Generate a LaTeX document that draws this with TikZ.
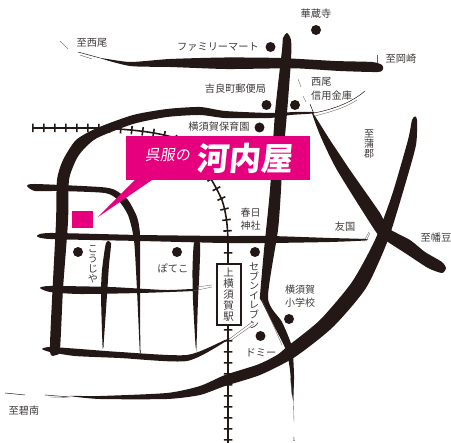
\documentclass[tikz,border=0pt]{standalone}
\usepackage{fontspec}
\setmainfont{Noto Sans CJK JP}
\definecolor{ink}{HTML}{231815}
\definecolor{labelgrey}{HTML}{3E3A39}
\definecolor{magentared}{HTML}{E6007E}
\newcommand{\brush}[1]{\fill[ink] plot[smooth cycle,tension=0.4] coordinates {#1};}
\tikzset{
  lab/.style={text=labelgrey,inner sep=0pt,font=\fontsize{10.2}{11}\selectfont,align=center},
  poi/.style={circle,fill=ink,minimum size=10pt,inner sep=0pt},
  thinline/.style={draw=ink,line width=0.5pt},
  hair/.style={draw=ink!70,line width=0.35pt},
}
\begin{document}
\begin{tikzpicture}[x=1pt,y=-1pt]
\useasboundingbox (0,0) rectangle (451,443);
% roads
\brush{(100,58)(130,62)(170,59)(225,57.5)(280,58)(335,61)(372,62)(382,65)(383,69)(378,72)(340,71)(300,68.5)(270,68.5)(225,69)(170,67)(130,66)}
\brush{(287,33)(291,40)(291,60)(287,113)(282,170)(281,190)(278,230)(268,298)(282,322)(292,347)(294,375)(293.5,395)(293.3,400)(293,400)(291.5,390)(290,370)(286,350)(272,322)(261,300)(260,296)(264,250)(270,190)(275,113)(282,50)(283,38)}
\brush{(70,396)(100,396)(167,393)(200,386)(225,375)(258,364.5)(277,355)(288,346)(320,320)(352,282)(375,240)(392,195)(408,140)(412,120)(415,116.5)(417,120)(416,145)(405,185)(388,240)(366,288)(333,327)(295,357)(260,375)(225,386)(200,395)(167,399)(100,399)}
\brush{(312,112)(330,140)(350,170)(380,213)(388,228)(410,240)(425,252)(442,262)(446,268)(442,273)(428,268)(405,253)(385,240)(376,232)(337,170)(320,135)}
\brush{(50,352)(52,300)(56,222)(57,180)(63,160)(76,140)(97,128)(133,115)(167,109)(200,107)(225,111)(270,113)(295,112)(313,112)(313,113.5)(290,115)(270,118)(225,118)(200,115)(167,117)(133,124)(97,138)(83,150)(76,160)(69,180)(68,222)(63,289)(60,349)(56,355)}
\brush{(27,186)(35,184)(100,187)(115,190)(128,200)(137,217)(140,235)(140,290)(140.3,350)(139.7,350)(137,290)(134,240)(128,215)(118,200)(105,193)(60,191)(35,191)}
\brush{(37,236)(50,233)(140,235)(225,236)(270,236)(330,238)(365,239)(365,240.5)(330,242)(270,243)(225,243)(140,241)(50,239)}
\brush{(40,288)(50,286)(110,287)(165,290)(193,289)(193,291)(140,293)(80,294)(50,292)}
\brush{(106,243)(111,243)(109,265)(107,295)(103.5,345)(102.5,345)(101,295)(102,270)}
\brush{(194,243)(200,243)(199.5,270)(198,300)(196.5,345)(195.5,345)(193,300)(192.5,270)}
\brush{(42,349)(50,347)(80,349)(120,352)(187,355)(225,340)(228,340)(187,361)(120,358)(75,356)(50,352)}
% thin strokes
\draw[hair] (60,41) -- (68,49);
\draw[thinline] (78,52) -- (100,58);
\draw[hair] (80,55) -- (92,59);
\draw[hair] (377,55) -- (377,63);
\draw[hair] (298,79) -- (301,87);
\draw[hair] (303,96) -- (306,102);
\draw[thinline] (310,104) -- (314,114);
\draw[thinline] (314,113) .. controls (335,109) and (352,102) .. (365,91);
\draw[hair] (315,116) .. controls (330,112) and (345,108) .. (357,100);
\draw[hair] (362,241) -- (366,241) -- (370,233);
\draw[hair] (360,239) -- (365,239) -- (369,232);
\draw[hair] (193,291) -- (212,287);
\draw[hair] (197,287) -- (212,285);
\draw[hair] (228,340) -- (252,322);
\draw[hair] (230,341) -- (254,324);
\draw[hair] (262,300) -- (282,345);
\draw[hair] (103,345) -- (103,347);
\draw[hair] (140,350) -- (140,353);
\draw[hair] (196,345) -- (197,352);
\draw[hair] (290.5,378) -- (292,395);
\draw[hair] (293,385) -- (294,422);
\draw[thinline] (5,393) -- (25,395);
\draw[thinline] (45,395) -- (70,397);
\draw[hair] (50,397) -- (68,397.5);
% railway
\draw[ink,line width=1.6pt] (32,128) -- (97,128) .. controls (125,129) and (150,131) .. (172,137) .. controls (195,150) and (212,178) .. (222,200) .. controls (227,215) and (228,230) .. (228,250) -- (228,443);
\draw[ink,line width=8.5pt,dash pattern=on 1.6pt off 9.4pt] (32,128) -- (97,128) .. controls (125,129) and (150,131) .. (172,137) .. controls (195,150) and (212,178) .. (222,200) .. controls (227,215) and (228,230) .. (228,250) -- (228,443);
% banner
\fill[magentared] (98,217) -- (135,180) -- (152,180) -- cycle;
\node[fill=magentared,minimum width=184pt,minimum height=44pt,inner sep=0pt,anchor=north west] (banner) at (126,136) {};
\fill[magentared] (72,211) rectangle (93,228);
\node[text=white,inner sep=0pt,xslant=0.15,font=\fontsize{15}{16}\selectfont] (gofuku) at (168.5,155) {呉服の};
\node[text=white,inner sep=0pt,xslant=0.1,font=\fontsize{32}{33}\bfseries\selectfont] (kawachiya) at (246,158) {河内屋};
% station
\node[draw=ink,line width=2pt,fill=white,minimum width=24pt,minimum height=61pt,inner sep=0pt] (station) at (228.5,295) {};
\node[lab,font=\fontsize{10.5}{11}\selectfont] (stationname) at (228.5,295) {上\\横\\須\\賀\\駅};
% points of interest
\node[poi] (p1) at (316,30) {};
\node[poi] (p2) at (270.5,47) {};
\node[poi] (p3) at (266.5,105) {};
\node[poi] (p4) at (295,105) {};
\node[poi] (p5) at (259.5,127.5) {};
\node[poi] (p6) at (78,252) {};
\node[poi] (p7) at (177,252) {};
\node[poi] (p8) at (255,252) {};
\node[poi] (p9) at (289,319) {};
\node[poi] (p10) at (260.5,336) {};
% labels
\node[lab] (l1) at (316,14) {華蔵寺};
\node[lab] (l2) at (218,46.5) {ファミリーマート};
\node[lab] (l3) at (92,43) {至西尾};
\node[lab] (l4) at (401,59) {至岡崎};
\node[lab,anchor=west] (l5) at (311,82) {西尾};
\node[lab,anchor=west] (l6) at (311,96) {信用金庫};
\node[lab] (l7) at (235.5,89) {吉良町郵便局};
\node[lab] (l8) at (219,127) {横須賀保育園};
\node[lab,font=\fontsize{10}{10}\selectfont] (l9) at (369,144.5) {至\\蒲\\郡};
\node[lab,font=\fontsize{10}{13}\selectfont] (l10) at (250.5,219) {春日\\神社};
\node[lab] (l11) at (345,227) {友国};
\node[lab] (l12) at (436,238) {至幡豆};
\node[lab,font=\fontsize{10}{9.6}\selectfont] (l13) at (254,295.5) {セ\\ブ\\ン\\イ\\レ\\ブ\\ン};
\node[lab,font=\fontsize{10}{10}\selectfont] (l14) at (93,264) {こ\\う\\じ\\や};
\node[lab] (l15) at (173,268) {ぽてこ};
\node[lab,font=\fontsize{10}{13}\selectfont] (l16) at (300,296) {横須賀\\小学校};
\node[lab] (l17) at (261,353) {ドミー};
\node[lab] (l18) at (24,411) {至碧南};
\node[lab,font=\fontsize{5}{6}\selectfont] (l19) at (294,440) {1};
\end{tikzpicture}
\end{document}
